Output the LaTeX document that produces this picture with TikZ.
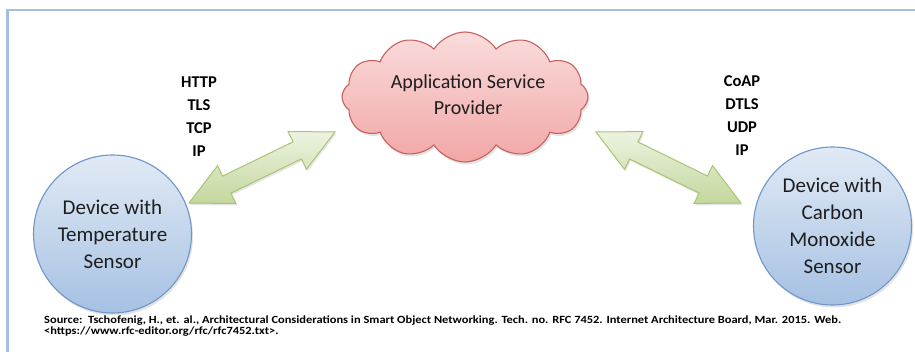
\documentclass[tikz,border=0pt]{standalone}
\usepackage{fontspec}
\setmainfont{Carlito}
\usetikzlibrary{shapes.symbols,shadows,calc}
\definecolor{framec}{HTML}{A3BFE3}
\definecolor{circborder}{HTML}{6F96C9}
\definecolor{circtop}{HTML}{E1EAF5}
\definecolor{circbot}{HTML}{A6C1E3}
\definecolor{cloudborder}{HTML}{C8605D}
\definecolor{cloudtop}{HTML}{FADCDC}
\definecolor{cloudbot}{HTML}{F1A7A6}
\definecolor{arrborder}{HTML}{A9C475}
\definecolor{arrtop}{HTML}{EDF3E1}
\definecolor{arrbot}{HTML}{C3D79D}
\definecolor{txt}{HTML}{1E1E1E}
\tikzset{
  devicenode/.style={circle, draw=circborder, line width=1.1pt, minimum size=158pt, inner sep=0pt,
    top color=circtop, bottom color=circbot, align=center, text=txt,
    font=\fontsize{21}{27}\selectfont,
    drop shadow={opacity=0.22, shadow xshift=1.5pt, shadow yshift=-2.5pt}},
  cloudnode/.style={cloud, cloud puffs=12, cloud puff arc=115, aspect=1.9, draw=cloudborder, line width=1.1pt,
    minimum width=246pt, minimum height=130pt, inner sep=0pt,
    top color=cloudtop, bottom color=cloudbot,
    drop shadow={opacity=0.22, shadow xshift=1.5pt, shadow yshift=-2.5pt}},
  cloudtext/.style={align=center, text=txt, font=\fontsize{20}{26}\selectfont},
  protonode/.style={align=center, text=black, font=\bfseries\fontsize{16.5}{23}\selectfont},
  linkarrow/.style={draw=arrborder, line width=1pt, line join=miter, top color=arrtop, bottom color=arrbot,
    drop shadow={opacity=0.2, shadow xshift=1.2pt, shadow yshift=-2pt}},
  sourcenode/.style={anchor=north west, align=left, text=black, inner sep=0pt, xscale=1.13,
    font=\bfseries\fontsize{11}{10.5}\selectfont}
}
\newcommand\dblarrowpath[2]{%
  ($(#1)$) -- ($(#1)!42pt!(#2)!21pt!90:(#2)$) -- ($(#1)!42pt!(#2)!9.5pt!90:(#2)$)
  -- ($(#2)!42pt!(#1)!9.5pt!-90:(#1)$) -- ($(#2)!42pt!(#1)!21pt!-90:(#1)$)
  -- ($(#2)$) -- ($(#2)!42pt!(#1)!21pt!90:(#1)$) -- ($(#2)!42pt!(#1)!9.5pt!90:(#1)$)
  -- ($(#1)!42pt!(#2)!9.5pt!-90:(#2)$) -- ($(#1)!42pt!(#2)!21pt!-90:(#2)$) -- cycle}
\begin{document}
\begin{tikzpicture}[x=1pt,y=1pt]
\useasboundingbox (0,0) rectangle (915,-352);
\fill[white] (0,0) rectangle (915,-352);
\draw[framec, line width=2.5pt] (7.5,-10) rectangle (940,-380);

% cloud
\node[cloudnode] (asp) at (465,-97) {};
\node[cloudtext] (asptext) at (468,-95) {Application Service\\Provider};

% devices
\node[devicenode] (temp) at (112.5,-234) {Device with\\Temperature\\Sensor};
\node[devicenode] (co) at (832.5,-226) {Device with\\Carbon\\Monoxide\\Sensor};

% arrow end points
\coordinate (la) at (189,-203);
\coordinate (lb) at (335,-132);
\coordinate (ra) at (596,-132);
\coordinate (rb) at (741,-203);
\path[linkarrow] \dblarrowpath{la}{lb};
\path[linkarrow] \dblarrowpath{ra}{rb};

% protocol stacks
\node[protonode] (lstack) at (199,-117) {HTTP\\TLS\\TCP\\IP};
\node[protonode] (rstack) at (742,-116) {CoAP\\DTLS\\UDP\\IP};

% source
\node[sourcenode] (src) at (44,-316) {Source:\ \ Tschofenig, H., et. al., Architectural Considerations in Smart Object Networking. Tech. no. RFC 7452. Internet Architecture Board, Mar. 2015. Web.\\
<https://www.rfc-editor.org/rfc/rfc7452.txt>.};
\end{tikzpicture}
\end{document}
